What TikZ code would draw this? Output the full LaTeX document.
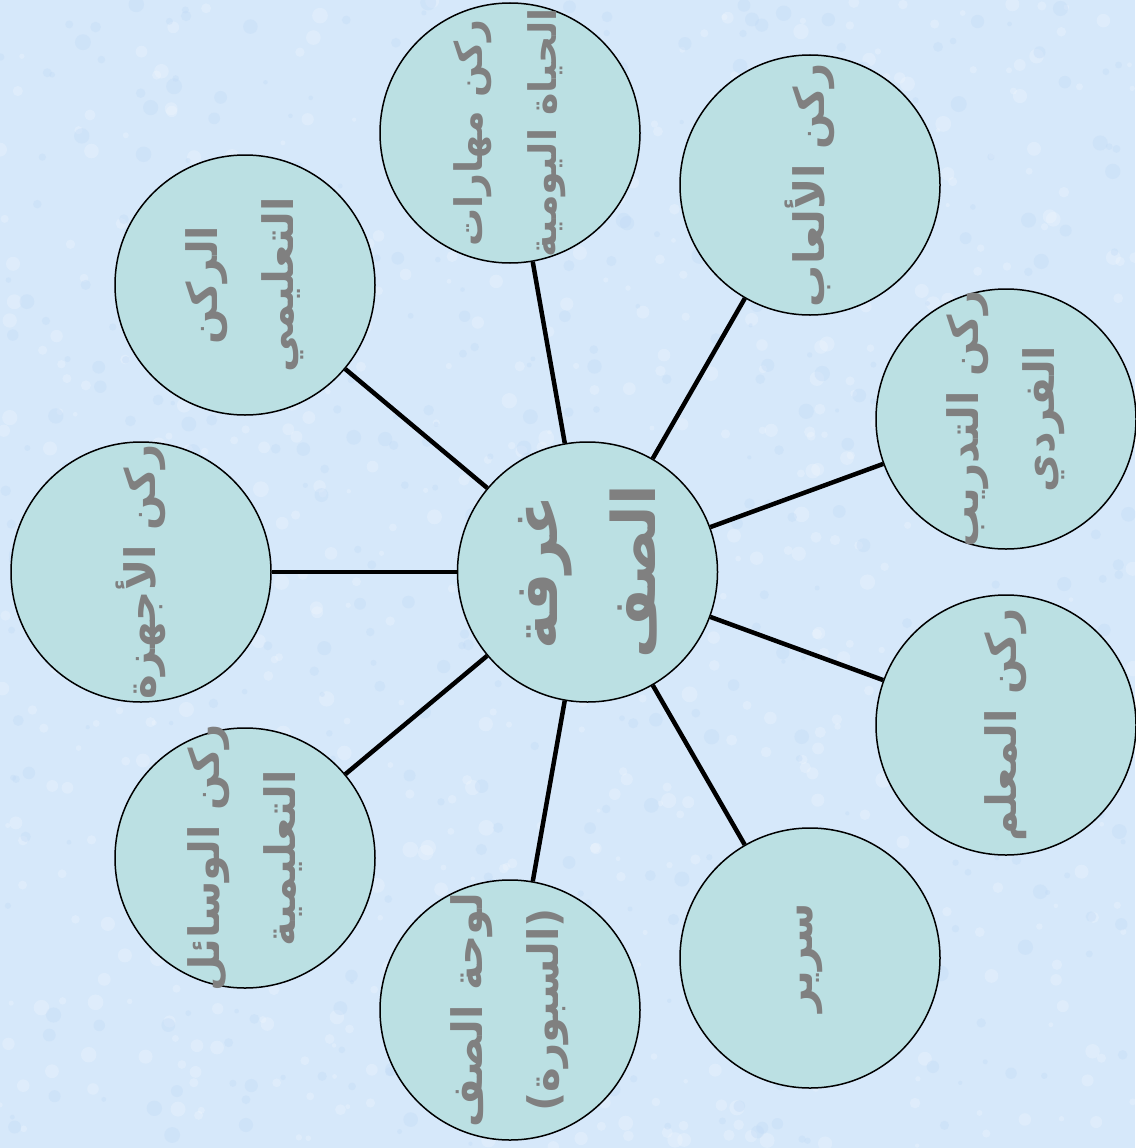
\documentclass[tikz,border=0pt]{standalone}
\usepackage{fontspec}
\newfontfamily\arabicfont[Script=Arabic]{DejaVu Sans}
\TeXXeTstate=1
\definecolor{bgblue}{RGB}{214,232,250}
\definecolor{bgdark}{RGB}{192,218,246}
\definecolor{circfill}{RGB}{187,224,227}
\definecolor{txtgray}{RGB}{128,128,128}
\newcommand{\RL}[1]{\beginR #1\endR}
\begin{document}
\begin{tikzpicture}[x=1pt,y=-1pt,
  bubble/.style={circle,draw=black,line width=1.5pt,fill=circfill,minimum size=260pt,inner sep=0pt},
  arlabel/.style={rotate=90,text=txtgray,align=center,inner sep=0pt,font=\arabicfont\bfseries\fontsize{42}{76}\selectfont},
  smalllabel/.style={arlabel,font=\arabicfont\bfseries\fontsize{38}{74}\selectfont},
  biglabel/.style={arlabel,font=\arabicfont\bfseries\fontsize{60}{98}\selectfont},
  link/.style={line width=4.5pt,draw=black},
  speckle/.style={fill=white,opacity=0.2,draw=none},
  speckdark/.style={fill=bgdark,opacity=0.35,draw=none}]
\useasboundingbox (0,0) rectangle (1135,1148);
\begin{scope}
\clip (0,0) rectangle (1135,1148);
\fill[bgblue] (0,0) rectangle (1135,1148);
\pgfmathsetseed{7}
\foreach \k in {1,...,700} {
  \pgfmathsetmacro{\xx}{rnd*1135}
  \pgfmathsetmacro{\yy}{rnd*1148}
  \pgfmathsetmacro{\rr}{2+rnd*6}
  \fill[speckle] (\xx,\yy) circle (\rr);
}
\foreach \k in {1,...,500} {
  \pgfmathsetmacro{\xx}{rnd*1135}
  \pgfmathsetmacro{\yy}{rnd*1148}
  \pgfmathsetmacro{\rr}{2+rnd*6}
  \fill[speckdark] (\xx,\yy) circle (\rr);
}
\end{scope}

\coordinate (pc) at (587.5,572);
\coordinate (p1) at (510,133);
\coordinate (p2) at (810,185);
\coordinate (p3) at (1006,419);
\coordinate (p4) at (1006,725);
\coordinate (p5) at (810,958);
\coordinate (p6) at (510,1010);
\coordinate (p7) at (245,858);
\coordinate (p8) at (141,572);
\coordinate (p9) at (245,285);

\foreach \i in {c,1,2,3,4,5,6,7,8,9} \node[bubble] (b\i) at (p\i) {};

\foreach \i in {1,...,9} \draw[link] (bc) -- (b\i);

\node[biglabel] (tc) at (pc) {\RL{غرفة}\\\RL{الصف}};
\node[smalllabel] (t1) at (p1) {\RL{ركن مهارات}\\\RL{الحياة اليومية}};
\node[arlabel] (t2) at (p2) {\RL{ركن الألعاب}};
\node[arlabel] (t3) at (p3) {\RL{ركن التدريب}\\\RL{الفردي}};
\node[arlabel] (t4) at (p4) {\RL{ركن المعلم}};
\node[arlabel] (t5) at (p5) {\RL{سرير}};
\node[arlabel] (t6) at (p6) {\RL{لوحة الصف}\\\RL{(السبورة)}};
\node[arlabel] (t7) at (p7) {\RL{ركن الوسائل}\\\RL{التعليمية}};
\node[arlabel] (t8) at (p8) {\RL{ركن الأجهزة}};
\node[arlabel] (t9) at (p9) {\RL{الركن}\\\RL{التعليمي}};
\end{tikzpicture}
\end{document}
